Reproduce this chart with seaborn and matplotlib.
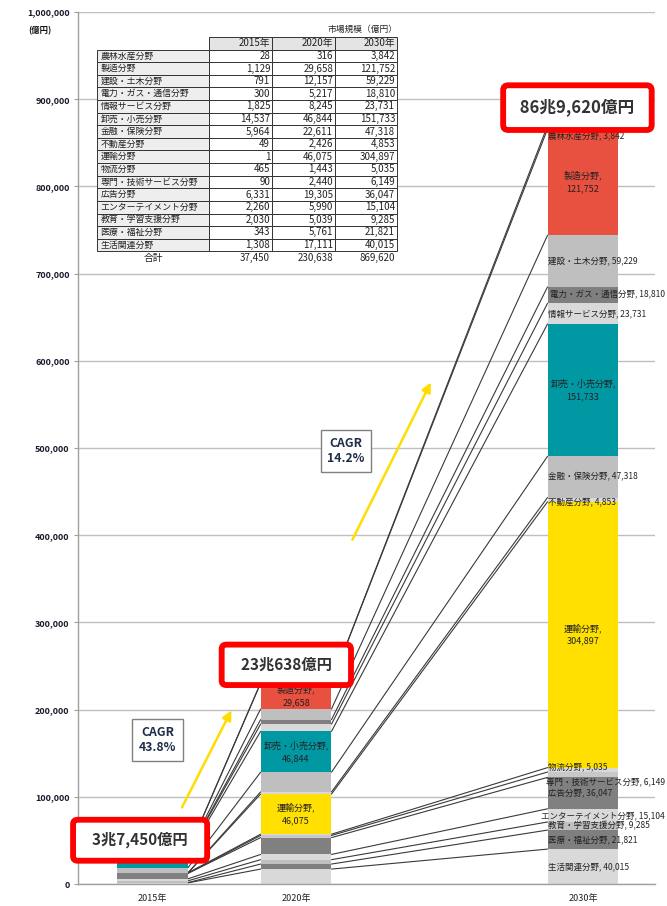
import numpy as np
import pandas as pd
import seaborn as sns
import matplotlib.pyplot as plt

sns.set_style("white")
plt.rcParams['font.family'] = ['Noto Sans CJK JP', 'DejaVu Sans']

# ---- data (table order, top to bottom) ----
categories = ['農林水産分野', '製造分野', '建設・土木分野', '電力・ガス・通信分野',
              '情報サービス分野', '卸売・小売分野', '金融・保険分野', '不動産分野',
              '運輸分野', '物流分野', '専門・技術サービス分野', '広告分野',
              'エンターテイメント分野', '教育・学習支援分野', '医療・福祉分野', '生活関連分野']
v2015 = [28, 1129, 791, 300, 1825, 14537, 5964, 49, 1, 465, 90, 6331, 2260, 2030, 343, 1308]
v2020 = [316, 29658, 12157, 5217, 8245, 46844, 22611, 2426, 46075, 1443, 2440, 19305, 5990, 5039, 5761, 17111]
v2030 = [3842, 121752, 59229, 18810, 23731, 151733, 47318, 4853, 304897, 5035, 6149, 36047, 15104, 9285, 21821, 40015]
totals = [37450, 230638, 869620]
total_labels = ['3兆7,450億円', '23兆638億円', '86兆9,620億円']
cagr_labels = ['CAGR\n43.8%', 'CAGR\n14.2%']
years = [2015, 2020, 2030]
year_labels = ['2015年', '2020年', '2030年']
big_cats = ['製造分野', '卸売・小売分野', '運輸分野']

seg_colors = ['#d9d9d9', '#e8503f', '#bfbfbf', '#7f7f7f', '#d9d9d9', '#0098a3', '#bfbfbf', '#d9d9d9',
              '#ffe000', '#d9d9d9', '#c8c8c8', '#808080', '#d9d9d9', '#c0c0c0', '#7f7f7f', '#d9d9d9']

# stack bottom -> top
stack_cats = categories[::-1]
stack_cols = seg_colors[::-1]
stack_vals = np.array([v2015, v2020, v2030]).T[::-1]
cum = stack_vals.cumsum(axis=0)

fig = plt.figure(figsize=(6.67, 9.06), dpi=100)
ax = fig.add_axes([78 / 667, 22 / 906, 577 / 667, 872 / 906])

bar_w = 2.47
# draw cumulative tops back to front so they look stacked
for i in range(len(stack_cats) - 1, -1, -1):
    df = pd.DataFrame({'year': years, 'top': cum[i]})
    sns.barplot(data=df, x='year', y='top', color=stack_cols[i], width=bar_w / 5,
                native_scale=True, errorbar=None, linewidth=0, saturation=1, ax=ax, zorder=2)

# connecting lines between bars
for i in range(len(stack_cats)):
    for a, b in [(0, 1), (1, 2)]:
        ax.plot([years[a] + bar_w / 2, years[b] - bar_w / 2], [cum[i, a], cum[i, b]],
                color='#3a3a3a', lw=0.8, zorder=1.5)

# segment labels
nudge = {'専門・技術サービス分野': -8000, '物流分野': 3000, '不動産分野': -3000, '農林水産分野': -10000}
for i, name in enumerate(stack_cats):
    for j in (1, 2):
        val = stack_vals[i, j]
        mid = cum[i, j] - val / 2
        if name in big_cats:
            ax.text(years[j], mid, f'{name},\n{val:,}', ha='center', va='center',
                    fontsize=6.5, linespacing=1.5, color='#222222', zorder=4)
        elif j == 2:
            y = mid + nudge.get(name, 0)
            if len(name) >= 10:
                ax.text(2032.85, y, f'{name}, {val:,}', ha='right', va='center',
                        fontsize=6.1, color='#222222', zorder=4, clip_on=False)
            else:
                ax.text(years[j] - bar_w / 2 + 0.03, y, f'{name}, {val:,}', ha='left',
                        va='center', fontsize=6.1, color='#222222', zorder=4, clip_on=False)

# total boxes
offsets = [(-9, 8), (-7, 13), (-4, 13)]
sizes = [11, 11, 12]
pads = ['  ', '  ', ' ']
for k in range(3):
    ax.annotate(pads[k] + total_labels[k] + pads[k], xy=(years[k], totals[k]), xytext=offsets[k],
                textcoords='offset points', ha='center', va='center',
                fontsize=sizes[k], fontweight='bold', color='#333333', zorder=6,
                bbox=dict(boxstyle='round,pad=0.8,rounding_size=0.3', fc='white',
                          ec='#ff0000', lw=4.2))

# CAGR boxes and arrows
cagr_pos = [(2015.17, 165000), (2021.74, 496600)]
for lab, (x, y) in zip(cagr_labels, cagr_pos):
    ax.text(x, y, lab, ha='center', va='center', fontsize=8.8, fontweight='bold',
            color='#1f2d4a', linespacing=1.25, zorder=5,
            bbox=dict(boxstyle='square,pad=0.55', fc='white', ec='#808080', lw=1))
arrows = [((2015.98, 85000), (2017.79, 202000)), ((2021.92, 392000), (2024.74, 578000))]
for tail, head in arrows:
    ax.annotate('', xy=head, xytext=tail, zorder=5,
                arrowprops=dict(arrowstyle='-|>', color='#ffdd00', lw=1.8, mutation_scale=14))

# axes styling
ax.set_xlim(2012.4, 2032.51)
ax.set_ylim(0, 1000000)
ax.set_xticks(years)
ax.set_xticklabels(year_labels, fontsize=6.5, color='#222222')
ax.set_yticks(np.arange(0, 1000001, 100000))
ax.set_yticklabels([f'{t:,}' for t in range(0, 1000001, 100000)], fontsize=6.5,
                   fontweight='bold', color='#1a1a2e')
ax.tick_params(axis='x', length=0, pad=7)
ax.tick_params(axis='y', length=3, color='#a0a0a0', pad=3, left=True)
ax.set_xlabel('')
ax.set_ylabel('')
ax.yaxis.grid(True, color='#bfbfbf', lw=1, zorder=0)
ax.set_axisbelow(True)
sns.despine(ax=ax)
for s in ('left', 'bottom'):
    ax.spines[s].set_color('#a0a0a0')
    ax.spines[s].set_linewidth(1)
ax.text(-0.066, 0.979, '(億円)', transform=ax.transAxes, ha='center', va='center',
        fontsize=6, fontweight='bold', color='#111111')

# data table
tax = fig.add_axes([97 / 667, 1 - 264 / 906, 300 / 667, 227 / 906])
tax.axis('off')
rows = [['', '2015年', '2020年', '2030年']]
rows += [[c, f'{a:,}', f'{b:,}', f'{d:,}'] for c, a, b, d in zip(categories, v2015, v2020, v2030)]
rows += [['合計'] + [f'{t:,}' for t in totals]]
tbl = tax.table(cellText=rows, colWidths=[112 / 300, 63 / 300, 63 / 300, 62 / 300],
                bbox=[0, 0, 1, 1], cellLoc='right')
tbl.auto_set_font_size(False)
tbl.set_fontsize(7)
last = len(rows) - 1
for (r, c), cell in tbl.get_celld().items():
    cell.set_linewidth(0.7)
    cell.set_edgecolor('#333333')
    cell.PAD = 0.03
    cell.get_text().set_color('#222222')
    if r == 0:
        cell.set_facecolor('#e4e4e4')
        if c == 0:
            cell.set_facecolor('none')
            cell.set_edgecolor('none')
    elif r == last:
        cell.set_edgecolor('none')
        cell.set_facecolor('none')
        if c == 0:
            cell._loc = 'center'
            cell.get_text().set_ha('center')
    elif c == 0:
        cell.set_facecolor('#eeeeee')
        cell._loc = 'left'
        cell.get_text().set_ha('left')
        cell.get_text().set_fontsize(6.4)
fig.text(397 / 667, 1 - 29 / 906, '市場規模（億円）', ha='right', va='center',
         fontsize=6.3, color='#222222')

fig.savefig('out.png', dpi=100)
